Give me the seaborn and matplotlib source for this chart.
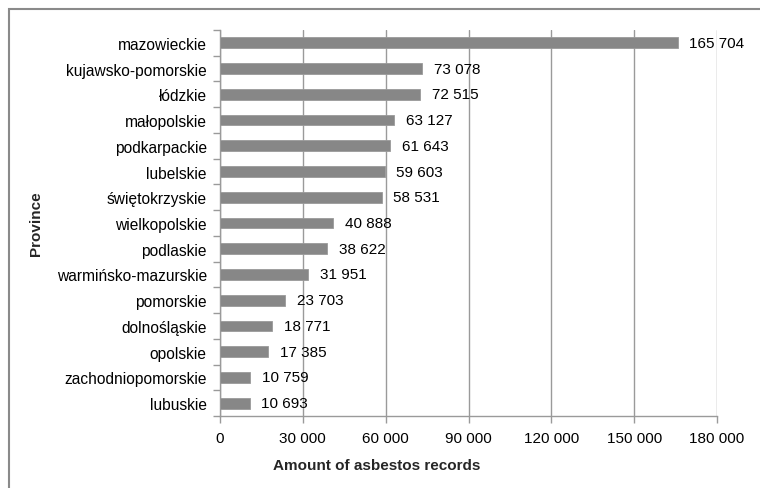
import matplotlib
matplotlib.use("Agg")
import matplotlib.pyplot as plt
import matplotlib.patches as mpatches
from matplotlib.ticker import FixedLocator
import seaborn as sns
import pandas as pd

provinces = [
    "mazowieckie", "kujawsko-pomorskie", "łódzkie", "małopolskie",
    "podkarpackie", "lubelskie", "świętokrzyskie", "wielkopolskie",
    "podlaskie", "warmińsko-mazurskie", "pomorskie", "dolnośląskie",
    "opolskie", "zachodniopomorskie", "lubuskie",
]
records = [
    165704, 73078, 72515, 63127, 61643, 59603, 58531, 40888,
    38622, 31951, 23703, 18771, 17385, 10759, 10693,
]
x_ticks = [0, 30000, 60000, 90000, 120000, 150000, 180000]

df = pd.DataFrame({"Province": provinces, "Records": records})

sns.set_theme(style="white")
plt.rcParams["font.family"] = ["Liberation Sans", "DejaVu Sans"]

W, H = 760, 489
fig = plt.figure(figsize=(W / 100, H / 100), dpi=100)
ax = fig.add_axes([220 / W, 1 - 417 / H, (717 - 220) / W, (417 - 31) / H])

GRID = "#9a9a9a"
BAR = "#878787"

sns.barplot(data=df, x="Records", y="Province", orient="h", color=BAR,
            width=0.42, edgecolor="#9a9a9a", linewidth=0.6, ax=ax, zorder=3)

ax.set_xlim(0, 180000)
ax.set_ylim(len(provinces) - 0.5, -0.5)
ax.set_xticks(x_ticks)
ax.set_xticklabels([f"{v:,}".replace(",", " ") for v in x_ticks])
ax.xaxis.grid(True, color=GRID, linewidth=1.0, zorder=0)
ax.yaxis.grid(False)
ax.set_axisbelow(True)

# category boundary ticks on the value axis side
ax.yaxis.set_minor_locator(FixedLocator([i - 0.5 for i in range(len(provinces) + 1)]))
ax.tick_params(axis="y", which="major", length=0, pad=9.5, labelsize=11.2,
               labelcolor="#000000")
ax.tick_params(axis="y", which="minor", length=5, width=1, color=GRID, left=True)
ax.tick_params(axis="x", which="major", length=5, width=1, color=GRID,
               bottom=True, pad=6, labelsize=11, labelcolor="#000000")

for side in ("top", "right"):
    ax.spines[side].set_visible(False)
for side in ("left", "bottom"):
    ax.spines[side].set_color(GRID)
    ax.spines[side].set_linewidth(1.0)

for i, v in enumerate(records):
    ax.text(v + 4300, i, f"{v:,}".replace(",", " "), va="center", ha="left",
            fontsize=11, color="#000000", zorder=4)

ax.set_xlabel("")
ax.set_ylabel("")
fig.text(377 / W, 1 - 466 / H, "Amount of asbestos records", ha="center",
         va="center", fontsize=11, fontweight="bold")
fig.text(36 / W, 1 - 224 / H, "Province", ha="center", va="center",
         rotation=90, fontsize=11, fontweight="bold")

# chart frame
fig.patches.append(mpatches.Rectangle((8.5 / W, -0.1), 1.2, 1 - 9.5 / H + 0.1,
                                      transform=fig.transFigure, fill=False,
                                      edgecolor="#8a8a8a", linewidth=1.5))

fig.savefig("out.png", dpi=100)
